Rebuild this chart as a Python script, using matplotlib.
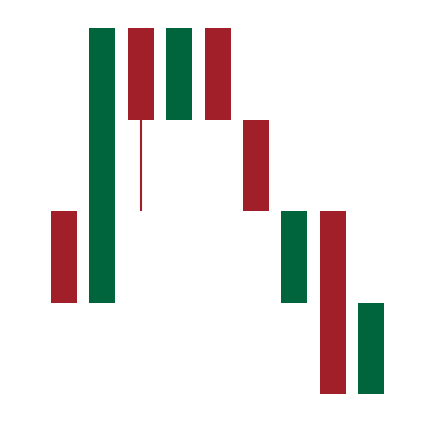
import matplotlib
matplotlib.use("Agg")
import matplotlib.pyplot as plt
import numpy as np

opens  = [2, 1, 4, 3, 4, 3, 1, 2, 0]
highs  = [2, 4, 4, 4, 4, 3, 2, 2, 1]
lows   = [1, 1, 2, 3, 3, 2, 1, 0, 0]
closes = [1, 4, 3, 4, 3, 2, 2, 0, 1]

UP = "#00643C"
DOWN = "#A01F29"

fig = plt.figure(figsize=(4.34, 4.22), dpi=100)
ax = fig.add_axes([0, 0, 1, 1])
x = np.arange(len(opens))
o = np.array(opens, float)
c = np.array(closes, float)
h = np.array(highs, float)
l = np.array(lows, float)
colors = [UP if cc > oo else DOWN for oo, cc in zip(o, c)]

ax.vlines(x, l, h, colors=colors, linewidth=1.5, zorder=1)
ax.bar(x, np.abs(c - o), bottom=np.minimum(o, c), width=0.68, color=colors,
       linewidth=0, zorder=2)

ax.set_xlim(-64 / 38.4, -64 / 38.4 + 434 / 38.4)
ax.set_ylim((394 - 422) / 91.5, 394 / 91.5)
ax.axis("off")
fig.savefig("out.png", dpi=100, facecolor="white")
